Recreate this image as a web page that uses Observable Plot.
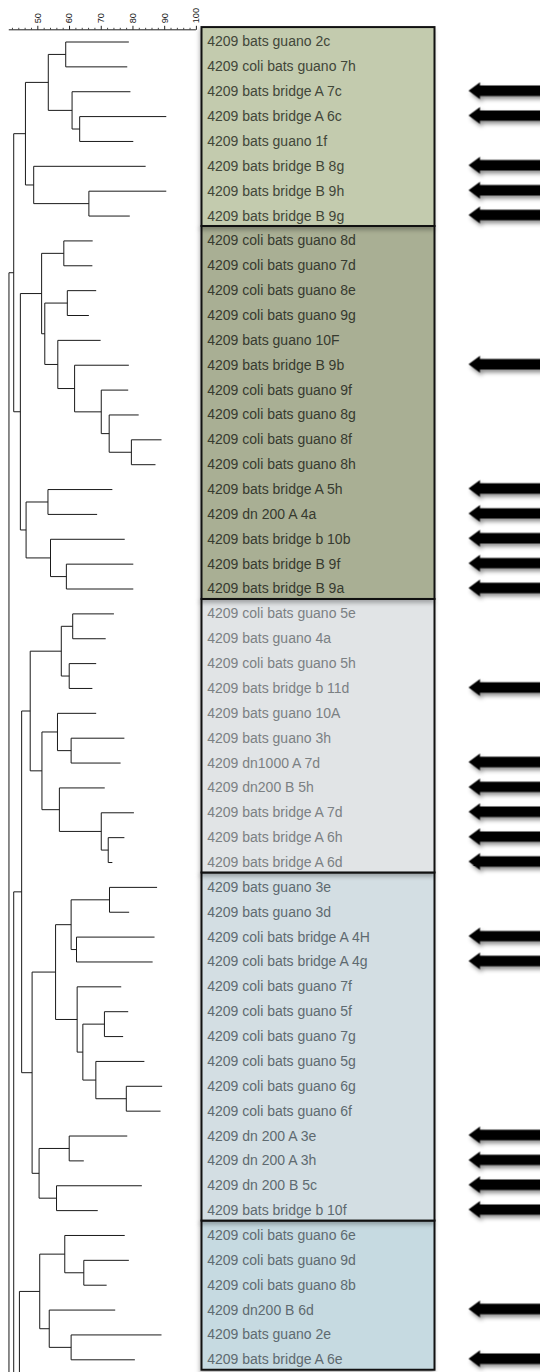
<!DOCTYPE html>
<html><head><meta charset="utf-8">
<script src="https://cdn.jsdelivr.net/npm/d3@7"></script>
<script src="https://cdn.jsdelivr.net/npm/@observablehq/plot@0.6"></script>
<style>
html,body{margin:0;padding:0;background:#fff;}
#chart{width:540px;height:1372px;overflow:hidden;}
</style></head><body><div id="chart"></div>
<script>
// ---------- data ----------
const labels = [
"4209 bats guano 2c","4209 coli bats guano 7h","4209 bats bridge A 7c","4209 bats bridge A 6c",
"4209 bats guano 1f","4209 bats bridge B 8g","4209 bats bridge B 9h","4209 bats bridge B 9g",
"4209 coli bats guano 8d","4209 coli bats guano 7d","4209 coli bats guano 8e","4209 coli bats guano 9g",
"4209 bats guano 10F","4209 bats bridge B 9b","4209 coli bats guano 9f","4209 coli bats guano 8g",
"4209 coli bats guano 8f","4209 coli bats guano 8h","4209 bats bridge A 5h","4209 dn 200 A 4a",
"4209 bats bridge b 10b","4209 bats bridge B 9f","4209 bats bridge B 9a","4209 coli bats guano 5e",
"4209 bats guano 4a","4209 coli bats guano 5h","4209 bats bridge b 11d","4209 bats guano 10A",
"4209 bats guano 3h","4209 dn1000 A 7d","4209 dn200 B 5h","4209 bats bridge A 7d",
"4209 bats bridge A 6h","4209 bats bridge A 6d","4209 bats guano 3e","4209 bats guano 3d",
"4209 coli bats bridge A 4H","4209 coli bats bridge A 4g","4209 coli bats guano 7f","4209 coli bats guano 5f",
"4209 coli bats guano 7g","4209 coli bats guano 5g","4209 coli bats guano 6g","4209 coli bats guano 6f",
"4209 dn 200 A 3e","4209 dn 200 A 3h","4209 dn 200 B 5c","4209 bats bridge b 10f",
"4209 coli bats guano 6e","4209 coli bats guano 9d","4209 coli bats guano 8b","4209 dn200 B 6d",
"4209 bats guano 2e","4209 bats bridge A 6e"];

// similarity (%) at which each leaf branch ends
const leafEnd = [
78.7,78.2,79.2,90.5,80.1,84.0,90.5,79.0,
67.3,67.2,68.4,66.1,69.8,78.7,78.5,81.8,89.0,87.1,73.5,68.7,77.4,80.1,80.1,
74.0,71.4,68.4,67.2,68.4,77.3,76.1,71.1,80.3,77.3,73.5,
87.6,78.8,86.8,86.2,76.3,78.5,76.9,83.6,89.2,88.7,78.2,64.5,82.8,68.9,
77.4,78.7,71.7,74.4,89.0,80.6];

// clusters: [name, child A, child B (null = continues below the picture), similarity %]
const merges = [
["A",0,1,58.8],["C",3,4,63.2],["B",2,"C",60.8],["AB1","A","B",53.3],
["E",6,7,66.1],["D",5,"E",48.7],["G1","AB1","D",46.1],
["F",8,9,58.2],["G",10,11,59.3],["O",16,17,79.5],["N",15,"O",72.5],["M",14,"N",70.0],
["L",13,"M",61.6],["I",12,"L",56.3],["H","G","I",52.2],["J","F","H",51.2],
["R",18,19,53.2],["T",21,22,59.0],["S",20,"T",54.0],["P","R","S",46.3],["K","J","P",44.5],
["Q","G1","K",42.4],
["U",23,24,61.0],["V",25,26,59.9],["W","U","V",57.4],["AA",28,29,60.5],["Z",27,"AA",56.2],
["AD",32,33,72.2],["AC",31,"AD",70.0],["AB",30,"AC",56.8],["Y","Z","AB",51.3],["X","W","Y",47.6],
["AK",34,35,72.6],["AL",36,37,62.2],["AJ","AK","AL",60.5],["AO",39,40,71.0],["AQ",42,43,77.9],
["AP",41,"AQ",68.3],["AN","AO","AP",64.2],["AM",38,"AN",62.4],["AH","AJ","AM",55.6],
["AR",44,45,59.9],["AS",46,47,55.9],["AI","AR","AS",50.4],["AF","AH","AI",48.2],["AE","X","AF",44.9],
["AW",49,50,64.5],["AV",48,"AW",58.5],["AY",52,53,60.5],["AX",51,"AY",53.6],["AU","AV","AX",50.6],
["AT","AU",null,44.2],["AG","AE",null,42.4],["ROOT","Q",null,40.9]];

const groupStart = [0, 8, 23, 34, 48];
const groupEnd   = [7, 22, 33, 47, 53];
const groupFill  = ["#c3cbae", "#a9af94", "#e1e4e6", "#d3dee3", "#c6dae1"];
const groupText  = ["#414639", "#363a2f", "#7b8083", "#5e6a70", "#5e6a70"];

const arrowRows = [2,3,5,6,7,13,18,19,20,21,22,26,29,30,31,32,33,36,37,44,45,46,47,51,53];

const majorTicks = [50,60,70,80,90,100];
const minorTicks = [42,44,46,48,52,54,56,58,62,64,66,68,72,74,76,78,82,84,86,88,92,94,96,98];
const axisExtent = [41, 100];

// ---------- layout ----------
const W = 540, H = 1372;
const X0 = 5.6, X100 = 195.9;        // pixel range of similarity 40..100
const Y0 = 41.5, YN = 1359.3;        // pixel centres of first / last row
const rowPx = (YN - Y0) / (labels.length - 1);
const AXIS_ROW = (29.3 - Y0) / rowPx;
const BELOW = labels.length + 8;     // beyond the bottom edge

// ---------- tree geometry ----------
const pos = new Map();
labels.forEach((l, i) => pos.set(i, {x: leafEnd[i], y: i}));
const segs = [];
for (const [name, a, b, s] of merges) {
  const pa = pos.get(a), pb = b == null ? null : pos.get(b);
  segs.push({x1: s, x2: s, y1: pa.y, y2: pb ? pb.y : BELOW});
  segs.push({x1: s, x2: pa.x, y1: pa.y, y2: pa.y});
  if (pb) segs.push({x1: s, x2: pb.x, y1: pb.y, y2: pb.y});
  pos.set(name, {x: s, y: pb ? (pa.y + pb.y) / 2 : null});
}

const rows = labels.map((l, i) => ({label: l, i, g: groupStart.findIndex((s, k) => i >= s && i <= groupEnd[k])}));
const groups = groupStart.map((s, k) => ({k, s, e: groupEnd[k]})).reverse();

const blockArrow = {
  draw(ctx) {
    ctx.moveTo(-36, 0);
    ctx.lineTo(-24.5, -8.5);
    ctx.lineTo(-24.5, -5.2);
    ctx.lineTo(44, -5.2);
    ctx.lineTo(44, 5.2);
    ctx.lineTo(-24.5, 5.2);
    ctx.lineTo(-24.5, 8.5);
    ctx.closePath();
  }
};

const BOX_L = 201.5, BOX_R = 434.5, TEXT_L = 206.7, ARROW_C = 504;

const chart = Plot.plot({
  width: W, height: H,
  style: {fontFamily: "'Liberation Sans', Arial, sans-serif", background: "white", overflow: "hidden"},
  x: {domain: [40, 100], range: [X0, X100], axis: null},
  y: {domain: [0, labels.length - 1], range: [Y0, YN], axis: null},
  marks: [
    // boxes
    Plot.rect(groups, {x1: 100, x2: 100, y1: d => d.s - 0.58, y2: d => d.e + 0.42,
      insetLeft: BOX_L - X100, insetRight: -(BOX_R - X100),
      fill: d => groupFill[d.k], stroke: "#111", strokeWidth: 2}),
    // labels
    Plot.text(rows, {x: 100, y: "i", text: "label", dx: TEXT_L - X100, textAnchor: "start",
      fontSize: 14, fill: d => groupText[d.g]}),
    // axis
    Plot.ruleY([AXIS_ROW], {x1: axisExtent[0], x2: axisExtent[1], stroke: "#222", strokeWidth: 1}),
    Plot.link(majorTicks, {x1: d => d, x2: d => d, y1: AXIS_ROW, y2: AXIS_ROW - 4 / rowPx, stroke: "#222"}),
    Plot.link(minorTicks, {x1: d => d, x2: d => d, y1: AXIS_ROW, y2: AXIS_ROW - 2 / rowPx, stroke: "#444"}),
    Plot.text(majorTicks, {x: d => d, y: AXIS_ROW, dy: -6.5, rotate: -90, textAnchor: "start",
      text: d => String(d), fontSize: 9.2, fill: "#222"}),
    // dendrogram
    Plot.link(segs, {x1: "x1", y1: "y1", x2: "x2", y2: "y2", stroke: "#1a1a1a", strokeWidth: 1}),
    // arrows
    Plot.dot(arrowRows, {x: 100, y: d => d, dx: ARROW_C - X100, dy: -1, symbol: blockArrow, r: 10,
      fill: "black", stroke: null})
  ]
});

d3.select(chart).selectAll('g[aria-label="rect"] rect').style("filter", "drop-shadow(-1px 3px 2px rgba(0,0,0,0.28))");
d3.select(chart).selectAll('g[aria-label="dot"]').style("filter", "drop-shadow(2px 3px 2px rgba(0,0,0,0.45))");
document.getElementById("chart").append(chart);
</script></body></html>
